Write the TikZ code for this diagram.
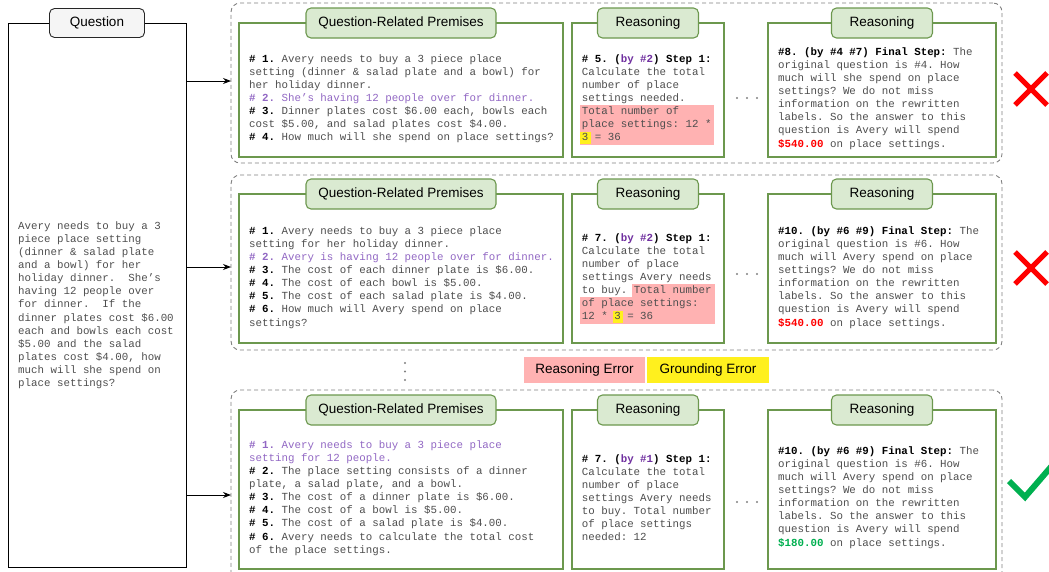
\documentclass[tikz,border=0pt]{standalone}
\usepackage{fontspec}
\setmainfont{Liberation Sans}
\setmonofont{Liberation Mono}
\usetikzlibrary{arrows.meta}
\definecolor{gb}{RGB}{108,152,78}
\definecolor{gfill}{RGB}{218,234,209}
\definecolor{txt}{RGB}{78,78,78}
\definecolor{pur}{RGB}{146,104,196}
\definecolor{bypur}{RGB}{112,48,160}
\definecolor{errpink}{RGB}{255,178,178}
\definecolor{erryel}{RGB}{255,240,30}
\definecolor{dashgray}{RGB}{128,128,128}
\definecolor{okgreen}{RGB}{0,176,80}
\definecolor{qfill}{RGB}{245,245,245}
\newcommand{\fs}{\rule[-3.6pt]{0pt}{13.15pt}}
\newcommand{\lab}[1]{\textcolor{black}{\textbf{#1}}}
\newcommand{\byp}[1]{\textcolor{bypur}{\textbf{#1}}}
\newcommand{\pinkhl}[2][-1.7pt]{\makebox[0pt][l]{\hspace*{#1}\textcolor{errpink}{\rule[-3.6pt]{#2}{13.15pt}}}}
\newcommand{\yelhl}{\makebox[0pt][l]{\hspace*{-1.7pt}\textcolor{erryel}{\rule[-3pt]{10.5pt}{12pt}}}}
\tikzset{
  qbox/.style={draw=black, line width=0.9pt, inner sep=0, outer sep=0},
  qhead/.style={draw=black!85, fill=qfill, rounded corners=5pt, line width=0.9pt, minimum width=95pt, minimum height=29pt, font=\fontsize{13.5}{16}\selectfont, inner sep=0},
  gbox/.style={draw=gb, line width=1.1pt, fill=white, inner sep=0, outer sep=0},
  ghead/.style={draw=gb, fill=gfill, rounded corners=5pt, line width=1.1pt, minimum height=30pt, font=\fontsize{13.5}{16}\selectfont, inner sep=0},
  rowbox/.style={draw=dashgray, dash pattern=on 4pt off 3pt, line width=0.9pt, rounded corners=9pt, inner sep=0, outer sep=0},
  body/.style={anchor=north west, align=left, inner sep=0, text=txt, font=\ttfamily\fontsize{10.8}{13.15}\selectfont\frenchspacing},
  lgbox/.style={minimum height=26pt, inner sep=0, font=\fontsize{13.5}{16}\selectfont},
  arr/.style={-{Stealth[length=8pt,width=6pt]}, line width=0.9pt},
  bad/.style={draw=red, line width=5pt},
  good/.style={draw=okgreen, line width=6pt},
}
\begin{document}
\begin{tikzpicture}[x=1pt,y=-1pt]
\path[use as bounding box] (0,0) rectangle (1049,571);
\begin{scope}
\clip (0,0) rectangle (1049,571);
% question
\node[qbox, minimum width=178pt, minimum height=544pt] (q) at (97,295) {};
\node[qhead] (qh) at (q.north) {Question};
\node[body] (qt) at (18,219.3) {\fs Avery needs to buy a 3\\
piece place setting\\
(dinner \& salad plate\\
and a bowl) for her\\
holiday dinner.\ \ She’s\\
having 12 people over\\
for dinner.\ \ If the\\
dinner plates cost \$6.00\\
each and bowls each cost\\
\$5.00 and the salad\\
plates cost \$4.00, how\\
much will she spend on\\
place settings?};

% row 1
\node[rowbox, minimum width=771pt, minimum height=160pt] (r1) at (616.5,83) {};
\node[gbox, minimum width=324pt, minimum height=134pt] (p1) at (401,90) {};
\node[gbox, minimum width=152pt, minimum height=134pt] (a1) at (648,90) {};
\node[gbox, minimum width=228pt, minimum height=134pt] (b1) at (882,90) {};
\node[ghead, minimum width=190pt] (p1h) at (p1.north) {Question-Related Premises};
\node[ghead, minimum width=101pt] (a1h) at (a1.north) {Reasoning};
\node[ghead, minimum width=101pt] (b1h) at (b1.north) {Reasoning};
\node[body] (p1t) at (249,52.3) {\fs\lab{\# 1.} Avery needs to buy a 3 piece place\\
setting (dinner \& salad plate and a bowl) for\\
her holiday dinner.\\
\textcolor{pur}{\textbf{\# 2.} She’s having 12 people over for dinner.}\\
\lab{\# 3.} Dinner plates cost \$6.00 each, bowls each\\
cost \$5.00, and salad plates cost \$4.00.\\
\lab{\# 4.} How much will she spend on place settings?};
\node[body] (a1t) at (581.7,52.3) {\fs\lab{\# 5. (}\byp{by \#2}\lab{) Step 1:}\\
Calculate the total\\
number of place\\
settings needed.\\
\pinkhl{134pt}Total number of\\
\pinkhl{134pt}place settings: 12 *\\
\pinkhl{134pt}\yelhl 3 = 36};
\node[body] (b1t) at (778,45.3) {\fs\lab{\#8. (by \#4 \#7) Final Step:} The\\
original question is \#4. How\\
much will she spend on place\\
settings? We do not miss\\
information on the rewritten\\
labels. So the answer to this\\
question is Avery will spend\\
\textcolor{red}{\textbf{\$540.00}} on place settings.};

% row 2
\node[rowbox, minimum width=771pt, minimum height=175pt] (r2) at (616.5,262.5) {};
\node[gbox, minimum width=324pt, minimum height=149pt] (p2) at (401,268.5) {};
\node[gbox, minimum width=152pt, minimum height=149pt] (a2) at (648,268.5) {};
\node[gbox, minimum width=228pt, minimum height=149pt] (b2) at (882,268.5) {};
\node[ghead, minimum width=190pt] (p2h) at (p2.north) {Question-Related Premises};
\node[ghead, minimum width=101pt] (a2h) at (a2.north) {Reasoning};
\node[ghead, minimum width=101pt] (b2h) at (b2.north) {Reasoning};
\node[body] (p2t) at (249,224.3) {\fs\lab{\# 1.} Avery needs to buy a 3 piece place\\
setting for her holiday dinner.\\
\textcolor{pur}{\textbf{\# 2.} Avery is having 12 people over for dinner.}\\
\lab{\# 3.} The cost of each dinner plate is \$6.00.\\
\lab{\# 4.} The cost of each bowl is \$5.00.\\
\lab{\# 5.} The cost of each salad plate is \$4.00.\\
\lab{\# 6.} How much will Avery spend on place\\
settings?};
\node[body] (a2t) at (581.7,231.3) {\fs\lab{\# 7. (}\byp{by \#2}\lab{) Step 1:}\\
Calculate the total\\
number of place\\
settings Avery needs\\
to buy. \pinkhl{83pt}Total number\\
\pinkhl{135pt}of place settings:\\
\pinkhl{135pt}12 * \yelhl 3 = 36};
\node[body] (b2t) at (778,224.3) {\fs\lab{\#10. (by \#6 \#9) Final Step:} The\\
original question is \#6. How\\
much will Avery spend on place\\
settings? We do not miss\\
information on the rewritten\\
labels. So the answer to this\\
question is Avery will spend\\
\textcolor{red}{\textbf{\$540.00}} on place settings.};

% legend
\node[lgbox, fill=errpink, minimum width=121pt] (le1) at (584.5,370) {Reasoning Error};
\node[lgbox, fill=erryel, minimum width=122pt] (le2) at (708,370) {Grounding Error};

% row 3
\node[rowbox, minimum width=771pt, minimum height=200pt] (r3) at (616.5,490) {};
\node[gbox, minimum width=324pt, minimum height=159pt] (p3) at (401,489.5) {};
\node[gbox, minimum width=152pt, minimum height=159pt] (a3) at (648,489.5) {};
\node[gbox, minimum width=228pt, minimum height=159pt] (b3) at (882,489.5) {};
\node[ghead, minimum width=190pt] (p3h) at (p3.north) {Question-Related Premises};
\node[ghead, minimum width=101pt] (a3h) at (a3.north) {Reasoning};
\node[ghead, minimum width=101pt] (b3h) at (b3.north) {Reasoning};
\node[body] (p3t) at (249,438.3) {\fs\textcolor{pur}{\textbf{\# 1.} Avery needs to buy a 3 piece place}\\
\textcolor{pur}{setting for 12 people.}\\
\lab{\# 2.} The place setting consists of a dinner\\
plate, a salad plate, and a bowl.\\
\lab{\# 3.} The cost of a dinner plate is \$6.00.\\
\lab{\# 4.} The cost of a bowl is \$5.00.\\
\lab{\# 5.} The cost of a salad plate is \$4.00.\\
\lab{\# 6.} Avery needs to calculate the total cost\\
of the place settings.};
\node[body] (a3t) at (581.7,452.3) {\fs\lab{\# 7. (}\byp{by \#1}\lab{) Step 1:}\\
Calculate the total\\
number of place\\
settings Avery needs\\
to buy. Total number\\
of place settings\\
needed: 12};
\node[body] (b3t) at (778,444.3) {\fs\lab{\#10. (by \#6 \#9) Final Step:} The\\
original question is \#6. How\\
much will Avery spend on place\\
settings? We do not miss\\
information on the rewritten\\
labels. So the answer to this\\
question is Avery will spend\\
\textcolor{okgreen}{\textbf{\$180.00}} on place settings.};

% connectors
\coordinate (y1) at (0,81);
\coordinate (y2) at (0,267);
\coordinate (y3) at (0,495);
\draw[arr] (q.east |- y1) -- (r1.west |- y1);
\draw[arr] (q.east |- y2) -- (r2.west |- y2);
\draw[arr] (q.east |- y3) -- (r3.west |- y3);

% ellipses
\foreach \yy in {98,274,502}{\foreach \xx in {737,747,757}{\fill[dashgray] (\xx,\yy) circle (1.2pt);}}
\foreach \yy in {363,371.5,380}{\fill[dashgray] (405,\yy) circle (1.2pt);}

% marks
\draw[bad] (1015,73) -- (1047,105) (1015,105) -- (1047,73);
\draw[bad] (1015,252) -- (1047,284) (1015,284) -- (1047,252);
\draw[good] (1009,481) -- (1025,497) -- (1056,461);
\end{scope}
\end{tikzpicture}
\end{document}
